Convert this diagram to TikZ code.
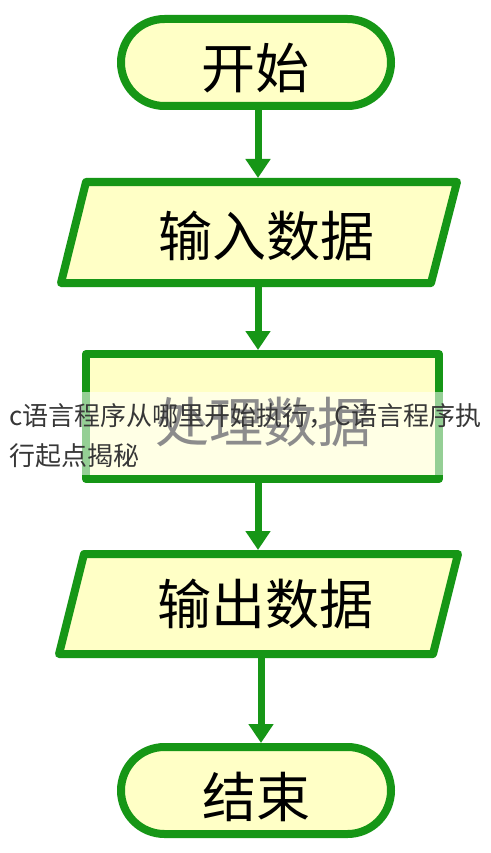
\documentclass[tikz,border=0pt]{standalone}
\usepackage{fontspec}
\newfontfamily\cjk{Noto Sans CJK SC}
\usetikzlibrary{arrows.meta}
\definecolor{fgreen}{RGB}{22,150,22}
\definecolor{fyellow}{RGB}{255,255,198}
\definecolor{captext}{RGB}{55,55,55}
\begin{document}
\begin{tikzpicture}[x=1pt,y=-1pt,
  box/.style={draw=fgreen,line width=8pt,fill=fyellow,line join=round,inner sep=0pt},
  holder/.style={inner sep=0pt,outer sep=0pt},
  biglabel/.style={font=\cjk\fontsize{54}{60}\selectfont,text=black,inner sep=0pt},
  caplabel/.style={font=\cjk\fontsize{26}{30}\selectfont,text=captext,inner sep=0pt,anchor=west},
  flow/.style={draw=fgreen,line width=7pt,-{Triangle[width=24pt,length=19pt,fill=fgreen]}}
]
\useasboundingbox (0,0) rectangle (490,853);
\fill[white] (0,0) rectangle (490,853);

% start terminal
\node[box,rounded corners=43.5pt,minimum width=270pt,minimum height=87pt] (start) at (256,62.5) {};
\node[biglabel] (tstart) at (255,68) {开始};

% input parallelogram
\draw[box] (86,182) -- (457,182) -- (431,283) -- (61,283) -- cycle;
\node[holder,minimum width=300pt,minimum height=109pt] (in) at (258,232.5) {};
\node[biglabel] (tin) at (266,236) {输入数据};

% process rectangle
\node[box,minimum width=353pt,minimum height=125pt] (proc) at (262.5,416.5) {};
\node[biglabel] (tproc) at (263,422) {处理数据};

% output parallelogram
\draw[box] (84,554) -- (458,554) -- (433,654) -- (59,654) -- cycle;
\node[holder,minimum width=300pt,minimum height=108pt] (out) at (258,604) {};
\node[biglabel] (tout) at (265,604) {输出数据};

% end terminal
\node[box,rounded corners=43.5pt,minimum width=270pt,minimum height=87pt] (end) at (256,790.5) {};
\node[biglabel] (tend) at (256,797) {结束};

% connectors
\draw[flow] (in.north |- start.south) -- (in.north);
\draw[flow] (in.south) -- (in.south |- proc.north);
\draw[flow] (out.north |- proc.south) -- (out.north);
\draw[flow] ([xshift=3pt]out.south) -- ([xshift=3pt]out.south |- end.north);

% translucent caption band
\fill[white,opacity=0.55] (0,392) rectangle (490,475);
\node[caplabel] (cap1) at (9,416) {c语言程序从哪里开始执行，C语言程序执};
\node[caplabel] (cap2) at (9,456) {行起点揭秘};
\end{tikzpicture}
\end{document}
